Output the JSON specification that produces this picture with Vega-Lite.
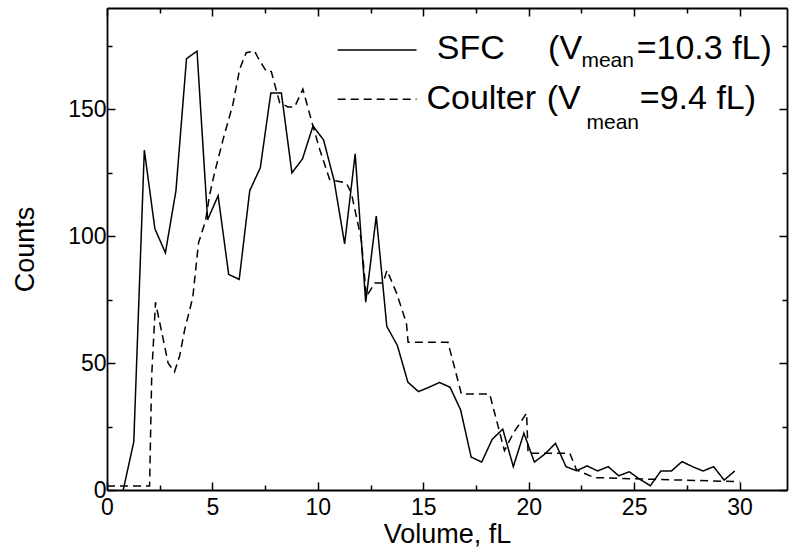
{
  "$schema": "https://vega.github.io/schema/vega-lite/v6.json",
  "width": 680,
  "height": 482,
  "autosize": {"type": "none"},
  "padding": {"left": 107, "top": 8, "right": 3, "bottom": 63},
  "background": "white",
  "data": {"values": [{}]},
  "config": {
    "view": {"stroke": null},
    "font": "Liberation Sans",
    "axis": {
      "grid": false,
      "domainColor": "black",
      "domainWidth": 1.8,
      "tickColor": "black",
      "tickWidth": 1.5,
      "labelColor": "black",
      "titleColor": "black",
      "labelFont": "Liberation Sans",
      "titleFont": "Liberation Sans",
      "labelFontSize": 23,
      "titleFontSize": 27,
      "titleFontWeight": "normal"
    }
  },
  "datasets": {
    "curves": [
      {"series": "SFC", "volume": 0.77, "counts": 0},
      {"series": "SFC", "volume": 1.27, "counts": 19},
      {"series": "SFC", "volume": 1.77, "counts": 134},
      {"series": "SFC", "volume": 2.27, "counts": 103},
      {"series": "SFC", "volume": 2.77, "counts": 93.5},
      {"series": "SFC", "volume": 3.27, "counts": 118},
      {"series": "SFC", "volume": 3.77, "counts": 170},
      {"series": "SFC", "volume": 4.27, "counts": 173},
      {"series": "SFC", "volume": 4.77, "counts": 106.5},
      {"series": "SFC", "volume": 5.27, "counts": 116},
      {"series": "SFC", "volume": 5.77, "counts": 85},
      {"series": "SFC", "volume": 6.27, "counts": 83},
      {"series": "SFC", "volume": 6.77, "counts": 118},
      {"series": "SFC", "volume": 7.27, "counts": 127},
      {"series": "SFC", "volume": 7.77, "counts": 156.5},
      {"series": "SFC", "volume": 8.27, "counts": 156.5},
      {"series": "SFC", "volume": 8.77, "counts": 125},
      {"series": "SFC", "volume": 9.27, "counts": 130.5},
      {"series": "SFC", "volume": 9.77, "counts": 143.5},
      {"series": "SFC", "volume": 10.27, "counts": 138},
      {"series": "SFC", "volume": 10.77, "counts": 122},
      {"series": "SFC", "volume": 11.27, "counts": 97},
      {"series": "SFC", "volume": 11.77, "counts": 132.5},
      {"series": "SFC", "volume": 12.27, "counts": 74},
      {"series": "SFC", "volume": 12.77, "counts": 108},
      {"series": "SFC", "volume": 13.27, "counts": 64.5},
      {"series": "SFC", "volume": 13.77, "counts": 57},
      {"series": "SFC", "volume": 14.27, "counts": 42.5},
      {"series": "SFC", "volume": 14.77, "counts": 38.8},
      {"series": "SFC", "volume": 15.27, "counts": 40.5},
      {"series": "SFC", "volume": 15.77, "counts": 42.4},
      {"series": "SFC", "volume": 16.27, "counts": 40.5},
      {"series": "SFC", "volume": 16.77, "counts": 31.6},
      {"series": "SFC", "volume": 17.27, "counts": 13},
      {"series": "SFC", "volume": 17.77, "counts": 11},
      {"series": "SFC", "volume": 18.27, "counts": 20},
      {"series": "SFC", "volume": 18.77, "counts": 24},
      {"series": "SFC", "volume": 19.27, "counts": 9.2},
      {"series": "SFC", "volume": 19.77, "counts": 22.4},
      {"series": "SFC", "volume": 20.27, "counts": 11},
      {"series": "SFC", "volume": 20.77, "counts": 14.2},
      {"series": "SFC", "volume": 21.27, "counts": 18.4},
      {"series": "SFC", "volume": 21.77, "counts": 9.2},
      {"series": "SFC", "volume": 22.27, "counts": 7.6},
      {"series": "SFC", "volume": 22.77, "counts": 9.5},
      {"series": "SFC", "volume": 23.27, "counts": 7.5},
      {"series": "SFC", "volume": 23.77, "counts": 9.2},
      {"series": "SFC", "volume": 24.27, "counts": 5.6},
      {"series": "SFC", "volume": 24.77, "counts": 7.2},
      {"series": "SFC", "volume": 25.27, "counts": 4.2},
      {"series": "SFC", "volume": 25.77, "counts": 1.7},
      {"series": "SFC", "volume": 26.27, "counts": 7.5},
      {"series": "SFC", "volume": 26.77, "counts": 7.5},
      {"series": "SFC", "volume": 27.27, "counts": 11.2},
      {"series": "SFC", "volume": 27.77, "counts": 9.2},
      {"series": "SFC", "volume": 28.27, "counts": 7.5},
      {"series": "SFC", "volume": 28.77, "counts": 9.2},
      {"series": "SFC", "volume": 29.27, "counts": 3.9},
      {"series": "SFC", "volume": 29.77, "counts": 7.5},
      {"series": "Coulter", "volume": 0, "counts": 1.6},
      {"series": "Coulter", "volume": 2.02, "counts": 1.6},
      {"series": "Coulter", "volume": 2.12, "counts": 45},
      {"series": "Coulter", "volume": 2.3, "counts": 74},
      {"series": "Coulter", "volume": 2.6, "counts": 62},
      {"series": "Coulter", "volume": 2.9, "counts": 50},
      {"series": "Coulter", "volume": 3.2, "counts": 46.6},
      {"series": "Coulter", "volume": 3.45, "counts": 53},
      {"series": "Coulter", "volume": 3.68, "counts": 63},
      {"series": "Coulter", "volume": 4.07, "counts": 76},
      {"series": "Coulter", "volume": 4.34, "counts": 97.4},
      {"series": "Coulter", "volume": 4.67, "counts": 106},
      {"series": "Coulter", "volume": 4.86, "counts": 116},
      {"series": "Coulter", "volume": 5.1, "counts": 125},
      {"series": "Coulter", "volume": 5.5, "counts": 138},
      {"series": "Coulter", "volume": 5.97, "counts": 152},
      {"series": "Coulter", "volume": 6.29, "counts": 165.8},
      {"series": "Coulter", "volume": 6.6, "counts": 172.4},
      {"series": "Coulter", "volume": 7.0, "counts": 173},
      {"series": "Coulter", "volume": 7.16, "counts": 170.4},
      {"series": "Coulter", "volume": 7.56, "counts": 165},
      {"series": "Coulter", "volume": 7.79, "counts": 165},
      {"series": "Coulter", "volume": 8.19, "counts": 152.7},
      {"series": "Coulter", "volume": 8.58, "counts": 151},
      {"series": "Coulter", "volume": 8.9, "counts": 151},
      {"series": "Coulter", "volume": 9.29, "counts": 158},
      {"series": "Coulter", "volume": 9.77, "counts": 143.4},
      {"series": "Coulter", "volume": 10.09, "counts": 134.2},
      {"series": "Coulter", "volume": 10.56, "counts": 122.4},
      {"series": "Coulter", "volume": 11.35, "counts": 121},
      {"series": "Coulter", "volume": 11.59, "counts": 117},
      {"series": "Coulter", "volume": 12.06, "counts": 98.7},
      {"series": "Coulter", "volume": 12.3, "counts": 76.3},
      {"series": "Coulter", "volume": 12.7, "counts": 81.6},
      {"series": "Coulter", "volume": 13.09, "counts": 81.6},
      {"series": "Coulter", "volume": 13.28, "counts": 86.6},
      {"series": "Coulter", "volume": 13.73, "counts": 77.7},
      {"series": "Coulter", "volume": 14.2, "counts": 65.8},
      {"series": "Coulter", "volume": 14.28, "counts": 58.2},
      {"series": "Coulter", "volume": 16.17, "counts": 58.2},
      {"series": "Coulter", "volume": 16.81, "counts": 37.8},
      {"series": "Coulter", "volume": 18.15, "counts": 37.8},
      {"series": "Coulter", "volume": 18.85, "counts": 15.5},
      {"series": "Coulter", "volume": 19.27, "counts": 22.4},
      {"series": "Coulter", "volume": 19.9, "counts": 30.3},
      {"series": "Coulter", "volume": 19.97, "counts": 14.5},
      {"series": "Coulter", "volume": 21.95, "counts": 14.5},
      {"series": "Coulter", "volume": 22.27, "counts": 7.9},
      {"series": "Coulter", "volume": 23.1, "counts": 4.9},
      {"series": "Coulter", "volume": 25.9, "counts": 4.2},
      {"series": "Coulter", "volume": 30.0, "counts": 3.3}
    ]
  },
  "resolve": {"axis": {"x": "independent", "y": "independent"}},
  "layer": [
    {
      "data": {"name": "curves"},
      "mark": {"type": "line", "color": "black", "strokeWidth": 1.5},
      "encoding": {
        "x": {
          "field": "volume", "type": "quantitative",
          "scale": {"domain": [0, 32.25], "nice": false, "zero": false},
          "axis": {
            "orient": "bottom", "title": "Volume, fL",
            "values": [0, 2.5, 5, 7.5, 10, 12.5, 15, 17.5, 20, 22.5, 25, 27.5, 30],
            "labelExpr": "datum.value % 5 === 0 ? datum.label : ''",
            "tickSize": {"condition": {"test": "datum.value % 5 === 0", "value": -8}, "value": -5},
            "labelPadding": 14, "titlePadding": 2, "labelFlush": false
          }
        },
        "y": {
          "field": "counts", "type": "quantitative",
          "scale": {"domain": [0, 190], "nice": false, "zero": false},
          "axis": {
            "orient": "left", "title": "Counts",
            "values": [0, 25, 50, 75, 100, 125, 150, 175],
            "labelExpr": "datum.value % 50 === 0 ? datum.label : ''",
            "tickSize": {"condition": {"test": "datum.value % 50 === 0", "value": -8}, "value": -5},
            "labelPadding": 9, "titlePadding": 28, "labelFlush": false
          }
        },
        "strokeDash": {
          "field": "series", "type": "nominal",
          "scale": {"domain": ["SFC", "Coulter"], "range": [[1, 0], [8, 5]]},
          "legend": null
        }
      }
    },
    {
      "mark": {"type": "rule", "color": "black", "strokeWidth": 1.5},
      "encoding": {
        "x": {
          "datum": 10.94, "type": "quantitative",
          "axis": {
            "orient": "top", "title": null, "labels": false,
            "values": [0, 2.5, 5, 7.5, 10, 12.5, 15, 17.5, 20, 22.5, 25, 27.5, 30],
            "tickSize": {"condition": {"test": "datum.value % 5 === 0", "value": -8}, "value": -5}
          }
        },
        "x2": {"datum": 14.68},
        "y": {
          "datum": 173.4, "type": "quantitative",
          "axis": {
            "orient": "right", "title": null, "labels": false,
            "values": [0, 25, 50, 75, 100, 125, 150, 175],
            "tickSize": {"condition": {"test": "datum.value % 50 === 0", "value": -8}, "value": -5}
          }
        }
      }
    },
    {
      "mark": {"type": "rule", "color": "black", "strokeWidth": 1.5, "strokeDash": [8, 5]},
      "encoding": {
        "x": {"datum": 10.94, "type": "quantitative", "axis": null},
        "x2": {"datum": 14.68},
        "y": {"datum": 154, "type": "quantitative", "axis": null}
      }
    },
    {
      "mark": {"type": "text", "text": "SFC", "fontSize": 34, "align": "left", "baseline": "alphabetic", "color": "black"},
      "encoding": {"x": {"datum": 15.64, "type": "quantitative", "axis": null}, "y": {"datum": 169.8, "type": "quantitative", "axis": null}}
    },
    {
      "mark": {"type": "text", "text": "(V", "fontSize": 34, "align": "left", "baseline": "alphabetic", "color": "black"},
      "encoding": {"x": {"datum": 20.92, "type": "quantitative", "axis": null}, "y": {"datum": 169.8, "type": "quantitative", "axis": null}}
    },
    {
      "mark": {"type": "text", "text": "mean", "fontSize": 21, "align": "left", "baseline": "alphabetic", "color": "black"},
      "encoding": {"x": {"datum": 22.5, "type": "quantitative", "axis": null}, "y": {"datum": 166.6, "type": "quantitative", "axis": null}}
    },
    {
      "mark": {"type": "text", "text": "=10.3 fL)", "fontSize": 34, "align": "left", "baseline": "alphabetic", "color": "black"},
      "encoding": {"x": {"datum": 25.12, "type": "quantitative", "axis": null}, "y": {"datum": 169.8, "type": "quantitative", "axis": null}}
    },
    {
      "mark": {"type": "text", "text": "Coulter", "fontSize": 34, "align": "left", "baseline": "alphabetic", "color": "black"},
      "encoding": {"x": {"datum": 15.15, "type": "quantitative", "axis": null}, "y": {"datum": 150, "type": "quantitative", "axis": null}}
    },
    {
      "mark": {"type": "text", "text": "(V", "fontSize": 34, "align": "left", "baseline": "alphabetic", "color": "black"},
      "encoding": {"x": {"datum": 20.85, "type": "quantitative", "axis": null}, "y": {"datum": 150, "type": "quantitative", "axis": null}}
    },
    {
      "mark": {"type": "text", "text": "mean", "fontSize": 21, "align": "left", "baseline": "alphabetic", "color": "black"},
      "encoding": {"x": {"datum": 22.74, "type": "quantitative", "axis": null}, "y": {"datum": 142.5, "type": "quantitative", "axis": null}}
    },
    {
      "mark": {"type": "text", "text": "=9.4 fL)", "fontSize": 34, "align": "left", "baseline": "alphabetic", "color": "black"},
      "encoding": {"x": {"datum": 25.27, "type": "quantitative", "axis": null}, "y": {"datum": 150, "type": "quantitative", "axis": null}}
    }
  ]
}
